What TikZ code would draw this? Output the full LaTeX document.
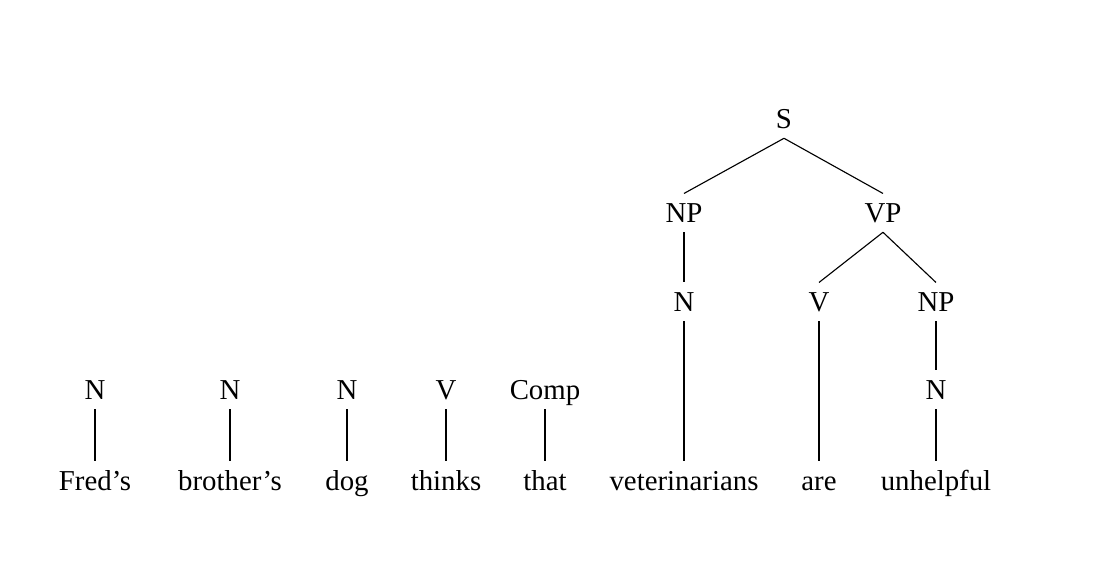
\documentclass[tikz,border=0pt]{standalone}
\usepackage{fontspec}
\setmainfont{Liberation Serif}
\begin{document}
\begin{tikzpicture}[x=0.025cm, y=-0.025cm,
    every node/.style={anchor=base, font=\fontsize{20.5}{24}\selectfont, text height=14.4pt, text depth=0pt, inner xsep=0pt, inner ysep=6.2pt},
    every path/.style={line width=0.8pt}]
    \useasboundingbox (0,0) rectangle (1100,576);
    % words
    \node (w1) at (95,491) {Fred's};
    \node (w2) at (230,491) {brother's};
    \node (w3) at (347,491) {dog};
    \node (w4) at (446,491) {thinks};
    \node (w5) at (545,491) {that};
    \node (w6) at (684,491) {veterinarians};
    \node (w7) at (819,491) {are};
    \node (w8) at (936,491) {unhelpful};
    % categories
    \node (c1) at (95,400) {N};
    \node (c2) at (230,400) {N};
    \node (c3) at (347,400) {N};
    \node (c4) at (446,400) {V};
    \node (c5) at (545,400) {Comp};
    \node (n8) at (936,400) {N};
    \node (n6) at (684,312) {N};
    \node (v7) at (819,312) {V};
    \node (np8) at (936,312) {NP};
    \node (np) at (684,223) {NP};
    \node (vp) at (883,223) {VP};
    \node (s) at (784,129) {S};

    \draw (c1.south) -- (w1.north);
    \draw (c2.south) -- (w2.north);
    \draw (c3.south) -- (w3.north);
    \draw (c4.south) -- (w4.north);
    \draw (c5.south) -- (w5.north);
    \draw (n6.south) -- (w6.north);
    \draw (v7.south) -- (w7.north);
    \draw (n8.south) -- (w8.north);
    \draw (np8.south) -- (n8.north);
    \draw (np.south) -- (n6.north);
    \draw (vp.south) -- (v7.north);
    \draw (vp.south) -- (np8.north);
    \draw (s.south) -- (np.north);
    \draw (s.south) -- (vp.north);
\end{tikzpicture}
\end{document}
